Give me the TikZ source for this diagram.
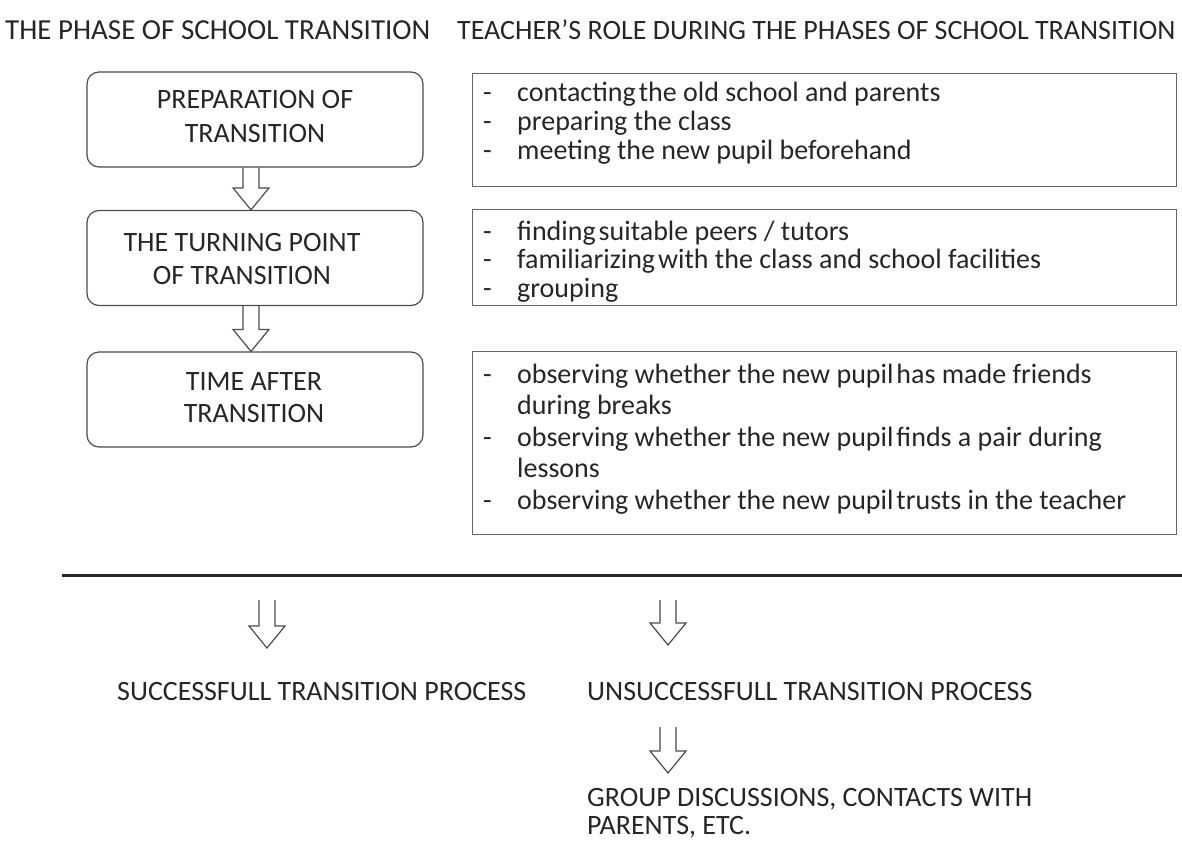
\documentclass[tikz,border=0pt]{standalone}
\usepackage{fontspec}
\setmainfont{Carlito}
\usetikzlibrary{calc}
\tikzset{
  phasebox/.style={draw=black!70, line width=1.2pt, rounded corners=12pt, minimum width=336pt, minimum height=95pt, inner sep=0pt},
  rolebox/.style={draw=black!60, line width=1pt, minimum width=704pt, inner sep=0pt, anchor=north west},
  txt/.style={font=\fontsize{28}{35}\selectfont, text=black!85, inner sep=0pt},
  blockarrow/.style={draw=black!70, line width=1.2pt, line join=miter},
}
\newcommand\blockarrow[2]{%
  \draw[blockarrow] let \p1=(#1), \p2=(#2) in
    (\x1-8pt,\y1) -- (\x1-8pt,\y2+22pt) -- (\x1-18pt,\y2+22pt) -- (\x1,\y2)
    -- (\x1+18pt,\y2+22pt) -- (\x1+8pt,\y2+22pt) -- (\x1+8pt,\y1);}
\newcommand\tsp{\hspace{3pt}}
\begin{document}
\begin{tikzpicture}[x=1pt,y=-1pt]
\useasboundingbox (0,0) rectangle (1182,841);
% titles
\node[txt, anchor=base west, font=\fontsize{29}{35}\selectfont] (t1) at (5,39) {THE PHASE OF SCHOOL TRANSITION};
\node[txt, anchor=base west] (t2) at (457,39) {TEACHER’S ROLE DURING THE PHASES OF SCHOOL TRANSITION};
% phase boxes
\node[phasebox] (b1) at (255,119.5) {};
\node[phasebox] (b2) at (255,258) {};
\node[phasebox] (b3) at (255,399.5) {};
\node[txt, anchor=base, align=center, font=\fontsize{28}{34}\selectfont] (b1t) at (255,142) {PREPARATION OF\\TRANSITION};
\node[txt, anchor=base, align=center, font=\fontsize{28}{33}\selectfont] (b2t) at (242,284) {THE TURNING POINT\\OF TRANSITION};
\node[txt, anchor=base, align=center, font=\fontsize{28}{32}\selectfont] (b3t) at (254,422) {TIME AFTER\\TRANSITION};
% arrows between phases
\path (b1.south) ++(-4,0) coordinate (a1t);
\path (b2.north) ++(-4,0) coordinate (a1h);
\path (b2.south) ++(-4,0) coordinate (a2t);
\path (b3.north) ++(-4,0) coordinate (a2h);
\blockarrow{a1t}{a1h}
\blockarrow{a2t}{a2h}
% role boxes
\node[rolebox, minimum height=113pt] (r1) at (472,73) {};
\node[rolebox, minimum height=96pt] (r2) at (472,209) {};
\node[rolebox, minimum height=183pt] (r3) at (472,351) {};
\node[txt, anchor=base west, font=\fontsize{28}{29}\selectfont] (r1t) at (483,101) {\begin{tabular}[t]{@{}p{34pt}@{}l@{}}
-&contacting\tsp the old school and parents\\
-&preparing the class\\
-&meeting the new pupil beforehand
\end{tabular}};
\node[txt, anchor=base west, font=\fontsize{28}{28.5}\selectfont] (r2t) at (483,240) {\begin{tabular}[t]{@{}p{34pt}@{}l@{}}
-&finding\tsp suitable peers / tutors\\
-&familiarizing\tsp with the class and school facilities\\
-&grouping
\end{tabular}};
\node[txt, anchor=base west, font=\fontsize{28}{31.5}\selectfont] (r3t) at (483,383) {\begin{tabular}[t]{@{}p{34pt}@{}l@{}}
-&observing whether the new pupil\tsp has made friends\\
&during breaks\\
-&observing whether the new pupil\tsp finds a pair during\\
&lessons\\
-&observing whether the new pupil\tsp trusts in the teacher
\end{tabular}};
% separator line
\coordinate (l1) at (62,575);
\coordinate (l2) at (1182,575);
\draw[line width=3pt, black!85] (l1) -- (l2);
% outcomes
\node[txt, anchor=base west] (s) at (117,700) {SUCCESSFULL TRANSITION PROCESS};
\node[txt, anchor=base west] (u) at (587,700) {UNSUCCESSFULL TRANSITION PROCESS};
\node[txt, anchor=base west, align=left, font=\fontsize{28}{28}\selectfont] (g) at (587,834) {GROUP DISCUSSIONS, CONTACTS WITH\\PARENTS, ETC.};
\coordinate (a3t) at (267,600);
\coordinate (a3h) at (267,648);
\coordinate (a4t) at (668,600);
\coordinate (a4h) at (668,645);
\coordinate (a5t) at (668,727);
\coordinate (a5h) at (668,773);
\blockarrow{a3t}{a3h}
\blockarrow{a4t}{a4h}
\blockarrow{a5t}{a5h}
\end{tikzpicture}
\end{document}
